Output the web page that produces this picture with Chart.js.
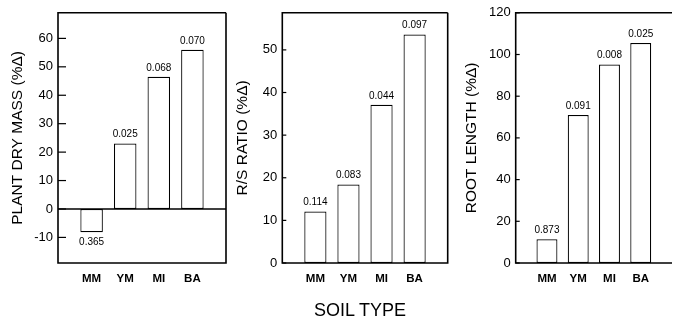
<!DOCTYPE html>
<html><head><meta charset="utf-8">
<script src="https://cdn.jsdelivr.net/npm/chart.js@4.4.0/dist/chart.umd.min.js"></script>
<style>
html,body{margin:0;padding:0;background:#fff;}
#wrap{position:relative;width:681px;height:320px;overflow:hidden;background:#fff;}
canvas{position:absolute;left:0;top:0;}
#soil{position:absolute;left:260px;width:200px;text-align:center;top:300px;font:18px 'Liberation Sans',Arial,sans-serif;color:#000;line-height:20px;}
</style></head>
<body><div id="wrap">
<canvas id="c1" width="681" height="320"></canvas>
<canvas id="c2" width="681" height="320"></canvas>
<canvas id="c3" width="681" height="320"></canvas>
<div id="soil">SOIL TYPE</div>
</div>
<script>
const categories = ['MM', 'YM', 'MI', 'BA'];
const dryMass = [-8.2, 23.0, 46.5, 56.0];
const dryMassP = ['0.365', '0.025', '0.068', '0.070'];
const rsRatio = [12.1, 18.4, 37.1, 53.6];
const rsRatioP = ['0.114', '0.083', '0.044', '0.097'];
const rootLength = [11.4, 71.0, 95.2, 105.5];
const rootLengthP = ['0.873', '0.091', '0.008', '0.025'];
const dryMassTicks = [-10, 0, 10, 20, 30, 40, 50, 60];
const rsRatioTicks = [0, 10, 20, 30, 40, 50];
const rootLengthTicks = [0, 20, 40, 60, 80, 100, 120];

const FONT = "'Liberation Sans', Arial, sans-serif";

const framePlugin = {
  id: 'frame',
  afterDatasetsDraw(chart, args, opts) {
    const ctx = chart.ctx;
    const a = chart.chartArea;
    const y = chart.scales.y;
    ctx.save();
    ctx.strokeStyle = '#000';
    if (opts.zeroLine) {
      ctx.lineWidth = 1.5;
      const zy = y.getPixelForValue(0);
      ctx.beginPath(); ctx.moveTo(a.left, zy); ctx.lineTo(a.right, zy); ctx.stroke();
    }
    ctx.lineWidth = 1.2;
    y.ticks.forEach(t => {
      const py = y.getPixelForValue(t.value);
      ctx.beginPath(); ctx.moveTo(a.left, py); ctx.lineTo(a.left + opts.tickLen, py); ctx.stroke();
    });
    ctx.lineWidth = 1.6;
    ctx.beginPath();
    ctx.moveTo(a.right, a.top);
    ctx.lineTo(a.left, a.top);
    ctx.lineTo(a.left, a.bottom);
    ctx.lineTo(a.right, a.bottom);
    if (opts.rightBorder) ctx.lineTo(a.right, a.top);
    ctx.stroke();
    ctx.fillStyle = '#000';
    ctx.font = '10px ' + FONT;
    ctx.textAlign = 'center';
    const meta = chart.getDatasetMeta(0);
    const vals = chart.data.datasets[0].data;
    meta.data.forEach((bar, i) => {
      const txt = opts.labels[i];
      if (!txt) return;
      if (vals[i] < 0) {
        ctx.textBaseline = 'top';
        ctx.fillText(txt, bar.x, bar.y + 5);
      } else {
        ctx.textBaseline = 'bottom';
        ctx.fillText(txt, bar.x, bar.y - 4);
      }
    });
    ctx.restore();
  }
};

function makeChart(id, cfg) {
  const labels = [''].concat(categories, ['']);
  const data = [null].concat(cfg.values, [null]);
  const pLabels = [null].concat(cfg.pvals, [null]);
  return new Chart(document.getElementById(id), {
    type: 'bar',
    data: {
      labels: labels,
      datasets: [{
        data: data,
        backgroundColor: '#fff',
        borderColor: '#000',
        borderWidth: 1.2,
        borderSkipped: false,
        barPercentage: 0.67,
        categoryPercentage: 1
      }]
    },
    options: {
      responsive: false,
      animation: false,
      devicePixelRatio: 1,
      layout: { padding: { left: cfg.padLeft, right: cfg.padRight, top: 12, bottom: 0 } },
      plugins: {
        legend: { display: false },
        tooltip: { enabled: false },
        frame: { labels: pLabels, zeroLine: cfg.zeroLine, tickLen: cfg.tickLen, rightBorder: cfg.rightBorder }
      },
      scales: {
        x: {
          type: 'category',
          offset: false,
          grid: { display: false, drawTicks: false },
          border: { display: false },
          ticks: { color: '#000', font: { family: FONT, size: 11.5, weight: 'bold' }, padding: 9, maxRotation: 0, autoSkip: false },
          afterFit(s) { s.height = 57; }
        },
        y: {
          type: 'linear',
          min: cfg.min,
          max: cfg.max,
          grid: { display: false, drawTicks: false },
          border: { display: false },
          afterBuildTicks(s) { s.ticks = cfg.ticks.map(v => ({ value: v })); },
          ticks: { color: '#000', font: { family: FONT, size: 13 }, padding: 5 },
          title: { display: true, text: cfg.title, color: '#000', font: { family: FONT, size: 15.5 }, padding: { top: 0, bottom: 0 } },
          afterFit(s) { s.width = cfg.yWidth; }
        }
      }
    },
    plugins: [framePlugin]
  });
}

makeChart('c1', { values: dryMass, pvals: dryMassP, ticks: dryMassTicks, min: -19, max: 69,
  title: 'PLANT DRY MASS (%Δ)', padLeft: 8, yWidth: 50, padRight: 455, zeroLine: true, tickLen: 8, rightBorder: true });
makeChart('c2', { values: rsRatio, pvals: rsRatioP, ticks: rsRatioTicks, min: 0, max: 58.7,
  title: 'R/S RATIO (%Δ)', padLeft: 233, yWidth: 49.3, padRight: 233.3, zeroLine: false, tickLen: 4, rightBorder: true });
makeChart('c3', { values: rootLength, pvals: rootLengthP, ticks: rootLengthTicks, min: 0, max: 120,
  title: 'ROOT LENGTH (%Δ)', padLeft: 462.7, yWidth: 53, padRight: 0, zeroLine: false, tickLen: 4, rightBorder: false });
</script>
</body></html>
